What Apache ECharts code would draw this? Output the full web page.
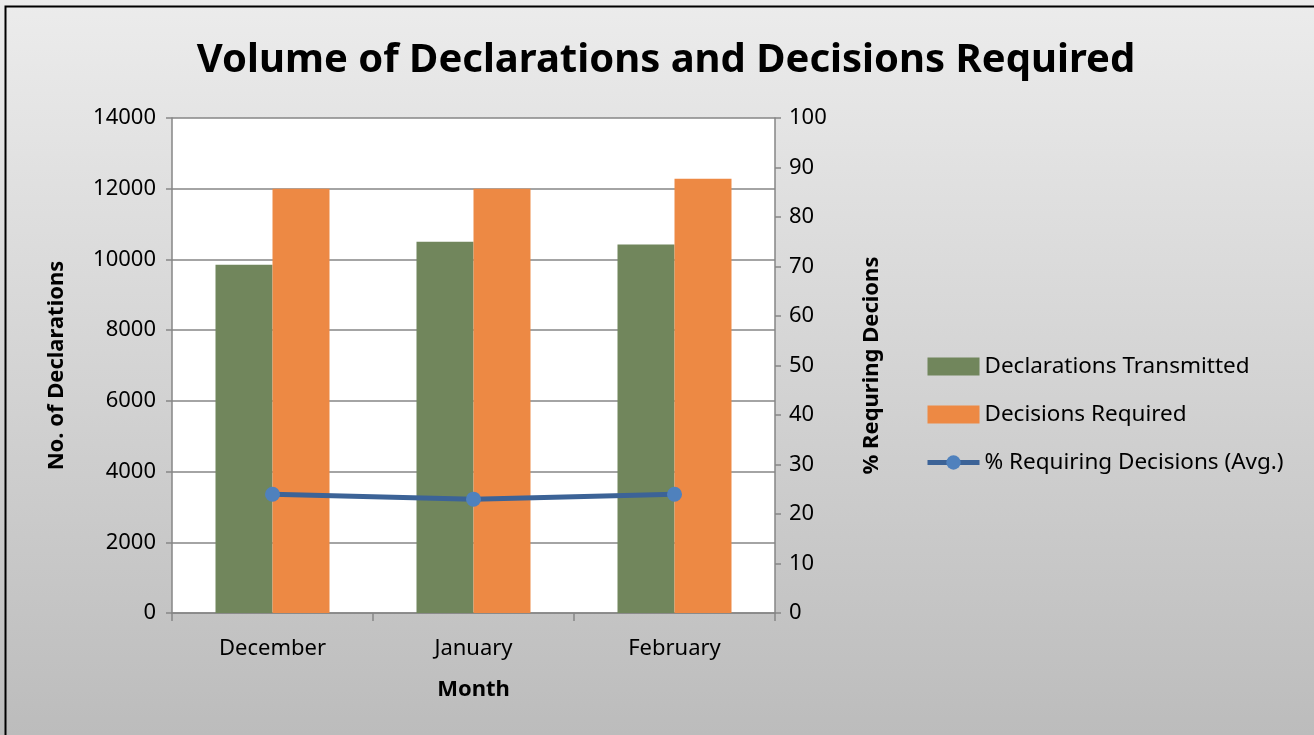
<!DOCTYPE html>
<html>
<head>
<meta charset="utf-8">
<script src="https://cdn.jsdelivr.net/npm/echarts@6/dist/echarts.min.js"></script>
<style>
  html, body { margin: 0; padding: 0; }
  #chart { width: 1314px; height: 735px; }
</style>
</head>
<body>
<div id="chart"></div>
<script>
var months = ['December', 'January', 'February'];
var transmitted = [9850, 10500, 10420];
var required = [12000, 12000, 12280];
var pctRequiring = [24, 23, 24];

var font = '"Noto Sans", "Open Sans", sans-serif';
var dom = echarts.init(document.getElementById('chart'));
var option = {
  backgroundColor: {
    type: 'linear', x: 0, y: 0, x2: 0, y2: 1,
    colorStops: [{ offset: 0, color: '#ececec' }, { offset: 1, color: '#bcbcbc' }]
  },
  textStyle: { fontFamily: font, color: '#000' },
  title: {
    text: 'Volume of Declarations and Decisions Required',
    left: 661, textAlign: 'center', top: 36,
    textStyle: { fontSize: 40, fontWeight: 'bold', color: '#000', fontFamily: font }
  },
  graphic: [{
    type: 'rect', left: 3, top: 4, z: -1,
    shape: { width: 1320, height: 740 },
    style: { fill: 'none', stroke: '#000', lineWidth: 2 }
  }],
  legend: {
    orient: 'vertical', left: 920, top: 350, itemGap: 25,
    itemWidth: 52, itemHeight: 18,
    textStyle: { fontSize: 22.5, color: '#000', fontFamily: font },
    data: [
      { name: 'Declarations Transmitted', icon: 'rect' },
      { name: 'Decisions Required', icon: 'rect' },
      { name: '% Requiring Decisions (Avg.)', lineStyle: { width: 5, color: '#3c6397' } }
    ]
  },
  grid: { left: 172, right: 539, top: 118, bottom: 122, backgroundColor: '#fff', show: true, borderWidth: 0 },
  xAxis: {
    type: 'category', data: months,
    name: 'Month', nameLocation: 'middle', nameGap: 66,
    nameTextStyle: { fontSize: 22, fontWeight: 'bold', color: '#000' },
    axisLine: { lineStyle: { color: '#868686', width: 1.5 } },
    axisTick: { show: true, length: 8, lineStyle: { color: '#868686', width: 1.5 } },
    axisLabel: { fontSize: 22, color: '#000', margin: 25 }
  },
  yAxis: [{
    type: 'value', min: 0, max: 14000, interval: 2000,
    name: 'No. of Declarations', nameLocation: 'middle', nameGap: 104, nameRotate: 90,
    nameTextStyle: { fontSize: 22, fontWeight: 'bold', color: '#000' },
    axisLine: { show: true, lineStyle: { color: '#868686', width: 1.5 } },
    axisTick: { show: true, length: 6, lineStyle: { color: '#868686', width: 1.5 } },
    axisLabel: { fontSize: 22, color: '#000', margin: 16, formatter: function (v) { return String(v); } },
    splitLine: { lineStyle: { color: '#868686', width: 1.5 } }
  }, {
    type: 'value', min: 0, max: 100, interval: 10, position: 'right',
    name: '% Requring Decions', nameLocation: 'middle', nameGap: 86, nameRotate: 90,
    nameTextStyle: { fontSize: 22, fontWeight: 'bold', color: '#000' },
    axisLine: { show: true, lineStyle: { color: '#868686', width: 1.5 } },
    axisTick: { show: true, length: 6, lineStyle: { color: '#868686', width: 1.5 } },
    axisLabel: { fontSize: 22, color: '#000', margin: 14 },
    splitLine: { show: false }
  }],
  series: [{
    name: 'Declarations Transmitted', type: 'bar', data: transmitted,
    barWidth: 57, barGap: '0%',
    itemStyle: { color: '#71865c' }
  }, {
    name: 'Decisions Required', type: 'bar', data: required,
    barWidth: 57,
    itemStyle: { color: '#ed8944' }
  }, {
    name: '% Requiring Decisions (Avg.)', type: 'line', yAxisIndex: 1, data: pctRequiring,
    symbol: 'circle', symbolSize: 15,
    lineStyle: { color: '#3c6397', width: 5 },
    itemStyle: { color: '#4f81bd' }
  }]
};
dom.setOption(option);
</script>
</body>
</html>
